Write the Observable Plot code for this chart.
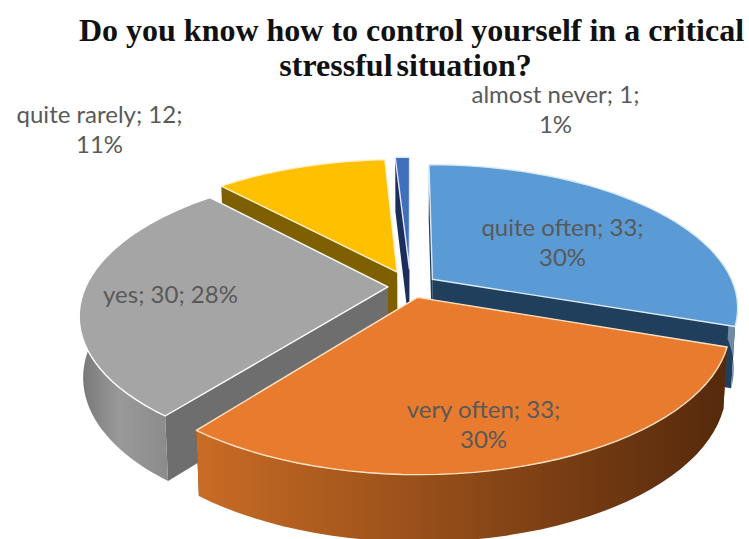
<!DOCTYPE html>
<html>
<head>
<meta charset="utf-8">
<script src="https://cdn.jsdelivr.net/npm/d3@7"></script>
<script src="https://cdn.jsdelivr.net/npm/@observablehq/plot@0.6"></script>
<style>
  html, body { margin: 0; padding: 0; background: #fff; }
  #chart svg { display: block; }
  .title-tight { word-spacing: -4px; }
</style>
</head>
<body>
<svg width="0" height="0" style="position:absolute">
  <defs>
    <linearGradient id="orangeWall" x1="0" x2="1" y1="0" y2="0">
      <stop offset="0" stop-color="#c96c25"/>
      <stop offset="0.5" stop-color="#8f4a18"/>
      <stop offset="1" stop-color="#55290c"/>
    </linearGradient>
    <linearGradient id="grayWall" x1="0" x2="1" y1="0" y2="0">
      <stop offset="0" stop-color="#767676"/>
      <stop offset="0.45" stop-color="#999999"/>
      <stop offset="1" stop-color="#8b8b8b"/>
    </linearGradient>
  </defs>
</svg>
<div id="chart"></div>
<script>
// Survey answers, clockwise from twelve o'clock
const categories = ["quite often", "very often", "yes", "quite rarely", "almost never"];
const counts = [33, 33, 30, 12, 1];
const percents = [30, 30, 28, 11, 1];
const titleLines = ["Do you know how to control yourself in a critical", "stressful situation?"];

// Slice styling, same order as the categories
const topColors = ["#5b9bd5", "#e97b2f", "#a5a5a5", "#ffc000", "#3f6fbd"];
const edgeColors = ["#dbe9f6", "#ffe3c4", "#ffffff", "#fff2cc", "#dfe6f4"];
const radialColors = ["#1f3f5c", "#7a3f14", "#6e6e6e", "#7f6000", "#1c2f5c"];
const outerColors = ["#6f8ba8", "url(#orangeWall)", "url(#grayWall)", "#7f6000", "#1c2f5c"];
const explodeBy = [0.09, 0.08, 0.075, 0.115, 0.13];

// Perspective view of a tilted disc
const view = {cx: 410, cy: 286, rx: 302, ry: 139, depth: 60, persp: 0.19, taper: 0.012};
function project(u, v, z) {
  const s = 1 / (1 - view.persp * v);
  return {
    x: view.cx + view.rx * u * s * (1 - view.taper * z),
    y: view.cy + view.ry * v * s + view.depth * Math.sqrt(s) * z
  };
}

const arcs = d3.pie().sort(null).value(d => d)(counts);
const polygons = [];

arcs.forEach((arc, i) => {
  const mid = (arc.startAngle + arc.endAngle) / 2;
  const ou = explodeBy[i] * Math.sin(mid);
  const ov = -explodeBy[i] * Math.cos(mid);
  const rim = (a, z) => project(ou + Math.sin(a), ov - Math.cos(a), z);
  const apex = z => project(ou, ov, z);
  const sweep = (a0, a1, z) => d3.range(41).map(k => rim(a0 + (a1 - a0) * k / 40, z));

  // Radial walls that face the viewer
  for (const a of [arc.startAngle, arc.endAngle]) {
    polygons.push({order: i, fill: radialColors[i],
      points: [apex(0), rim(a, 0), rim(a, 1), apex(1)]});
  }
  // Outer wall, only the part on the near side of the disc
  const a0 = Math.max(arc.startAngle, Math.PI / 2);
  const a1 = Math.min(arc.endAngle, 3 * Math.PI / 2);
  if (a1 > a0) {
    polygons.push({order: i, fill: outerColors[i],
      points: [...sweep(a0, a1, 0), ...sweep(a1, a0, 1)]});
  }
  // Top face
  polygons.push({order: i, fill: topColors[i], stroke: edgeColors[i],
    points: [apex(0), ...sweep(arc.startAngle, arc.endAngle, 0)]});
});

// Painter's order, far slices first
const paintOrder = [4, 3, 0, 2, 1];
const sliceMarks = paintOrder.flatMap(i =>
  polygons.filter(p => p.order === i).map(p =>
    Plot.line(p.points, {
      x: "x", y: "y", curve: "linear-closed",
      fill: p.fill, stroke: p.stroke ?? "none", strokeWidth: 1.4
    })
  )
);

// Data labels, built from the values
const labelPlaces = [
  {x: 562, y: 241}, {x: 483, y: 423}, {x: 170, y: 293}, {x: 99, y: 128}, {x: 555, y: 108}
];
const labels = categories.map((name, i) => ({
  ...labelPlaces[i],
  text: name === "yes"
    ? `${name}; ${counts[i]}; ${percents[i]}%`
    : `${name}; ${counts[i]};\n${percents[i]}%`
}));

const titleStyle = {
  x: "x", y: "y", text: "t",
  fontFamily: "Liberation Serif", fontWeight: "bold", fontSize: 32, fill: "#111"
};

const chart = Plot.plot({
  width: 749,
  height: 539,
  margin: 0,
  x: {domain: [0, 749], range: [0, 749], axis: null},
  y: {domain: [0, 539], range: [0, 539], axis: null},
  marks: [
    ...sliceMarks,
    Plot.text(labels, {
      x: "x", y: "y", text: "text", lineHeight: 1.25,
      fontFamily: "Lato", fontSize: 24, fill: "#595959"
    }),
    Plot.text([{x: 411, y: 30, t: titleLines[0]}], titleStyle),
    Plot.text([{x: 405, y: 65, t: titleLines[1]}], {...titleStyle, className: "title-tight"})
  ]
});
document.getElementById("chart").append(chart);
</script>
</body>
</html>
